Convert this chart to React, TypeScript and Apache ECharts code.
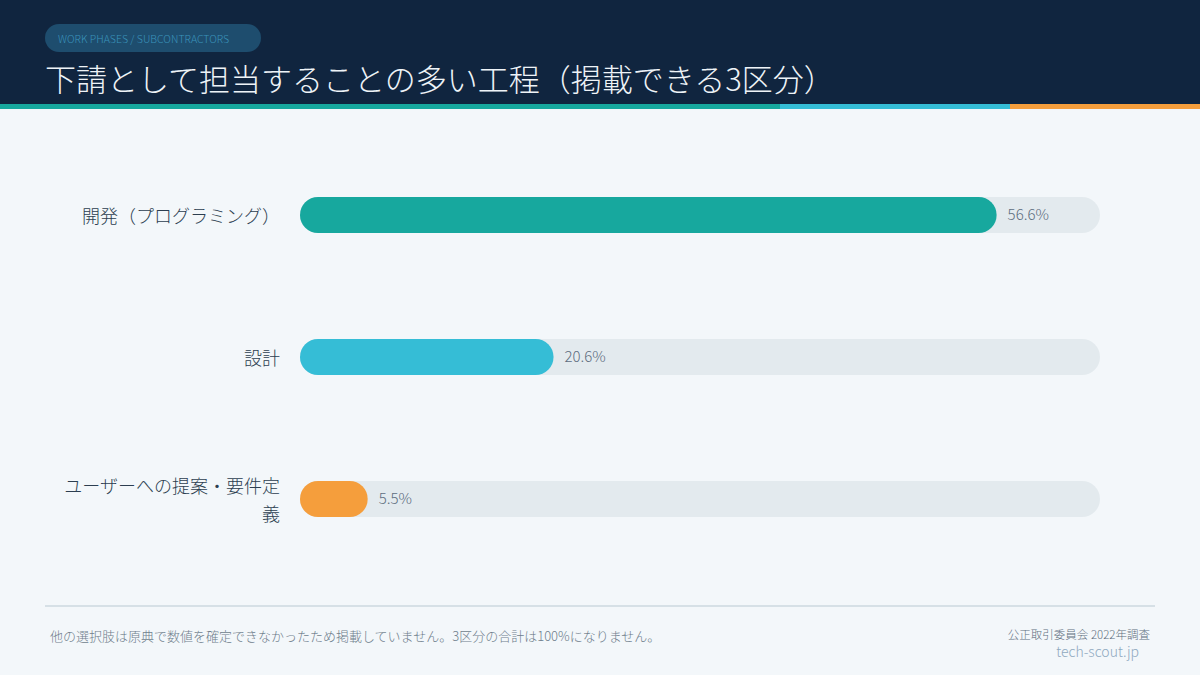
import React, { useEffect, useRef } from "react";
import * as echarts from "echarts";

const categories = ["開発（プログラミング）", "設計", "ユーザーへの提案・要件定義"];
const values = [56.6, 20.6, 5.5];
const barColors = ["#17a89e", "#35bdd6", "#f59e3c"];
const stripeColors = ["#17a89e", "#35bdd6", "#f59e3c"];
const stripeWidths = [780, 230, 190];

const FONT = '"Noto Sans CJK JP", "Noto Sans", sans-serif';

export default function App() {
  const ref = useRef<HTMLDivElement>(null);
  useEffect(() => {
    if (!ref.current) return;
    const chart = echarts.init(ref.current, null, { renderer: "svg" });
    let sx = 0;
    const stripes = stripeWidths.map((w, i) => {
      const r = {
        type: "rect",
        shape: { x: sx, y: 104, width: w, height: 5 },
        style: { fill: stripeColors[i] },
        silent: true,
      };
      sx += w;
      return r;
    });
    chart.setOption({
      animation: false,
      backgroundColor: "#f3f7fa",
      textStyle: { fontFamily: FONT },
      grid: { left: 300, right: 100, top: 144, bottom: 105, containLabel: false },
      xAxis: {
        type: "value",
        min: 0,
        max: 65,
        show: false,
      },
      yAxis: {
        type: "category",
        data: categories,
        inverse: true,
        axisLine: { show: false },
        axisTick: { show: false },
        splitLine: { show: false },
        axisLabel: {
          color: "#2c3e50",
          fontSize: 18,
          fontWeight: 300,
          fontFamily: FONT,
          margin: 20,
          width: 220,
          overflow: "break",
          lineHeight: 28,
          align: "right",
        },
      },
      series: [
        {
          type: "bar",
          data: values.map((v, i) => ({ value: v, itemStyle: { color: barColors[i] } })),
          barWidth: 36,
          itemStyle: { borderRadius: 18 },
          showBackground: true,
          backgroundStyle: { color: "#e3eaee", borderRadius: 18 },
          label: {
            show: true,
            position: "right",
            distance: 11,
            offset: [0, -2],
            formatter: "{c}%",
            color: "#5d6d7e",
            fontSize: 15,
            fontWeight: 300,
            fontFamily: FONT,
          },
        },
      ],
      graphic: [
        {
          type: "rect",
          shape: { x: 0, y: 0, width: 1200, height: 104 },
          style: { fill: "#10253f" },
          silent: true,
        },
        ...stripes,
        {
          type: "rect",
          shape: { x: 45, y: 24, width: 216, height: 28, r: 14 },
          style: { fill: "#1e4d6e" },
          silent: true,
        },
        {
          type: "text",
          x: 58,
          y: 38,
          style: {
            text: "WORK PHASES / SUBCONTRACTORS",
            fill: "#3a93bb",
            fontSize: 10.5,
            fontWeight: 300,
            fontFamily: FONT,
            verticalAlign: "middle",
          },
          silent: true,
        },
        {
          type: "text",
          x: 45,
          y: 77,
          style: {
            text: "下請として担当することの多い工程（掲載できる3区分）",
            fill: "#eef3f7",
            fontSize: 31,
            fontWeight: 300,
            fontFamily: FONT,
            verticalAlign: "middle",
          },
          silent: true,
        },
        {
          type: "rect",
          shape: { x: 45, y: 605, width: 1110, height: 2 },
          style: { fill: "#d6e0e6" },
          silent: true,
        },
        {
          type: "text",
          x: 50,
          y: 635,
          style: {
            text: "他の選択肢は原典で数値を確定できなかったため掲載していません。3区分の合計は100%になりません。",
            fill: "#6f7e8c",
            fontSize: 13,
            fontWeight: 300,
            fontFamily: FONT,
            verticalAlign: "middle",
          },
          silent: true,
        },
        {
          type: "text",
          x: 1150,
          y: 634,
          style: {
            text: "公正取引委員会 2022年調査",
            fill: "#5f6f7e",
            fontSize: 11.5,
            fontWeight: 300,
            fontFamily: FONT,
            align: "right",
            verticalAlign: "middle",
          },
          silent: true,
        },
        {
          type: "text",
          x: 1139,
          y: 651,
          style: {
            text: "tech-scout.jp",
            fill: "#8fa9bf",
            fontSize: 14,
            fontWeight: 300,
            fontFamily: FONT,
            align: "right",
            verticalAlign: "middle",
          },
          silent: true,
        },
      ],
    });
    return () => chart.dispose();
  }, []);
  return (
    <div
      ref={ref}
      style={{ position: "fixed", left: 0, top: 0, width: 1200, height: 675 }}
    />
  );
}
